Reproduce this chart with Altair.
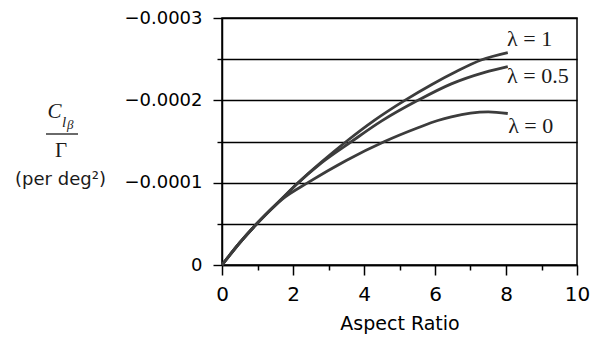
import altair as alt
import pandas as pd

# ---- data ----
ar_l1 = [0, 0.5, 1.0, 1.7, 2.1, 2.8, 3.5, 4.3, 5.15, 5.9, 6.6, 7.3, 8.05]
cl_l1 = [0, -0.27, -0.51, -0.81, -0.98, -1.25, -1.50, -1.76, -2.00, -2.19, -2.35, -2.49, -2.58]

ar_l05 = [0, 0.5, 1.0, 1.7, 2.1, 2.8, 3.65, 4.5, 5.52, 6.46, 7.4, 8.05]
cl_l05 = [0, -0.27, -0.51, -0.81, -0.98, -1.24, -1.50, -1.75, -2.00, -2.20, -2.34, -2.41]

ar_l0 = [0, 0.5, 1.0, 1.7, 2.42, 3.5, 4.58, 5.52, 6.08, 6.46, 7.0, 7.5, 8.05]
cl_l0 = [0, -0.27, -0.51, -0.80, -1.00, -1.27, -1.50, -1.667, -1.755, -1.80, -1.845, -1.86, -1.84]

series_names = ["λ = 1", "λ = 0.5", "λ = 0"]
label_x = [8.03, 8.03, 8.06]
label_y = [-2.66, -2.215, -1.60]   # baselines, x 1e-4

x_ticks = [0, 1, 2, 3, 4, 5, 6, 7, 8, 9, 10]
y_ticks = [0, -0.5, -1.0, -1.5, -2.0, -2.5, -3.0]  # x 1e-4

x_title = "Aspect Ratio"
y_title_c = ["C"]
y_title_l = ["l"]
y_title_beta = ["β"]
y_title_gamma = ["Γ"]
y_title_unit = ["(per deg²)"]

SCALE = 1e-4

rows = []
for name, xs, ys in zip(series_names, [ar_l1, ar_l05, ar_l0], [cl_l1, cl_l05, cl_l0]):
    for a, c in zip(xs, ys):
        rows.append({"ar": a, "clb": round(c * SCALE, 9), "series": name})
curves_df = pd.DataFrame(rows)

labels_df = pd.DataFrame({
    "ar": label_x,
    "clb": [round(v * SCALE, 9) for v in label_y],
    "label": series_names,
})

x_scale = alt.Scale(domain=[0, 10], nice=False, zero=False)
y_scale = alt.Scale(domain=[0, -0.0003], nice=False, zero=False)

x_axis = alt.Axis(
    values=x_ticks,
    title=x_title,
    grid=False,
    labelExpr="datum.value % 2 == 0 ? datum.label : ''",
    labelFlush=False,
    labelOverlap=False,
    labelFont="DejaVu Sans",
    labelFontSize=20,
    labelColor="black",
    labelPadding=9,
    tickSize={"condition": {"test": "datum.value % 2 == 0", "value": 10}, "value": 5},
    tickColor="black",
    tickWidth=1.5,
    domainColor="black",
    domainWidth=1.5,
    titleFont="DejaVu Sans",
    titleFontSize=19,
    titleFontWeight="normal",
    titleColor="black",
    titlePadding=10,
)

y_axis = alt.Axis(
    values=[round(v * SCALE, 9) for v in y_ticks],
    title=None,
    grid=True,
    gridColor="black",
    gridWidth=1.4,
    gridOpacity=1,
    labelExpr="datum.value == 0 ? '0' : (round(abs(datum.value) * 1e5) % 10 == 0 ? '\u2212' + format(abs(datum.value), '.4f') : '')",
    labelOverlap=False,
    labelFont="DejaVu Sans",
    labelFontSize=18,
    labelColor="black",
    labelPadding=11,
    tickSize={"condition": {"test": "round(abs(datum.value) * 1e5) % 10 == 0", "value": 9}, "value": 5},
    tickColor="black",
    tickWidth=1.4,
    domainColor="black",
    domainWidth=1.5,
)

X = alt.X("ar:Q", scale=x_scale, axis=x_axis)
Y = alt.Y("clb:Q", scale=y_scale, axis=y_axis)

curves = alt.Chart(curves_df).mark_line(
    interpolate="monotone", color="#3c3c3c", strokeWidth=2.8
).encode(x=X, y=Y, detail="series:N", order="ar:Q")

labels = alt.Chart(labels_df).mark_text(
    align="left", baseline="alphabetic", font="Liberation Serif", fontSize=22, color="#1a1a1a"
).encode(x=X, y=Y, text="label:N")


def txt(values, px, py, **kw):
    return alt.Chart(pd.DataFrame({"t": values})).mark_text(**kw).encode(
        x=alt.value(px), y=alt.value(py), text="t:N"
    )


t_c = txt(y_title_c, -167.5, 100, align="center", baseline="alphabetic",
          font="Liberation Serif", fontStyle="italic", fontSize=21, color="#1a1a1a")
t_l = txt(y_title_l, -160, 109, align="left", baseline="alphabetic",
          font="Liberation Serif", fontStyle="italic", fontSize=15, color="#1a1a1a")
t_b = txt(y_title_beta, -155, 111, align="left", baseline="alphabetic",
          font="Liberation Serif", fontStyle="italic", fontSize=13, color="#1a1a1a")
t_g = txt(y_title_gamma, -161, 139, align="center", baseline="alphabetic",
          font="Liberation Serif", fontSize=21, color="#1a1a1a")
t_u = txt(y_title_unit, -161.5, 167, align="center", baseline="alphabetic",
          font="DejaVu Sans", fontSize=18, color="#1a1a1a")
bar = alt.Chart(pd.DataFrame({"a": [0]})).mark_rule(color="#1a1a1a", strokeWidth=1.3).encode(
    x=alt.value(-176), x2=alt.value(-144), y=alt.value(116)
)

chart = alt.layer(curves, labels, t_c, t_l, t_b, t_g, t_u, bar).properties(
    width=355,
    height=247,
    padding={"left": 214, "top": 10, "right": 13, "bottom": 71},
    autosize="none",
    background="white",
).configure_view(stroke="black", strokeWidth=1.5)

chart.save("out.html", embed_options={"renderer": "svg", "actions": False})
